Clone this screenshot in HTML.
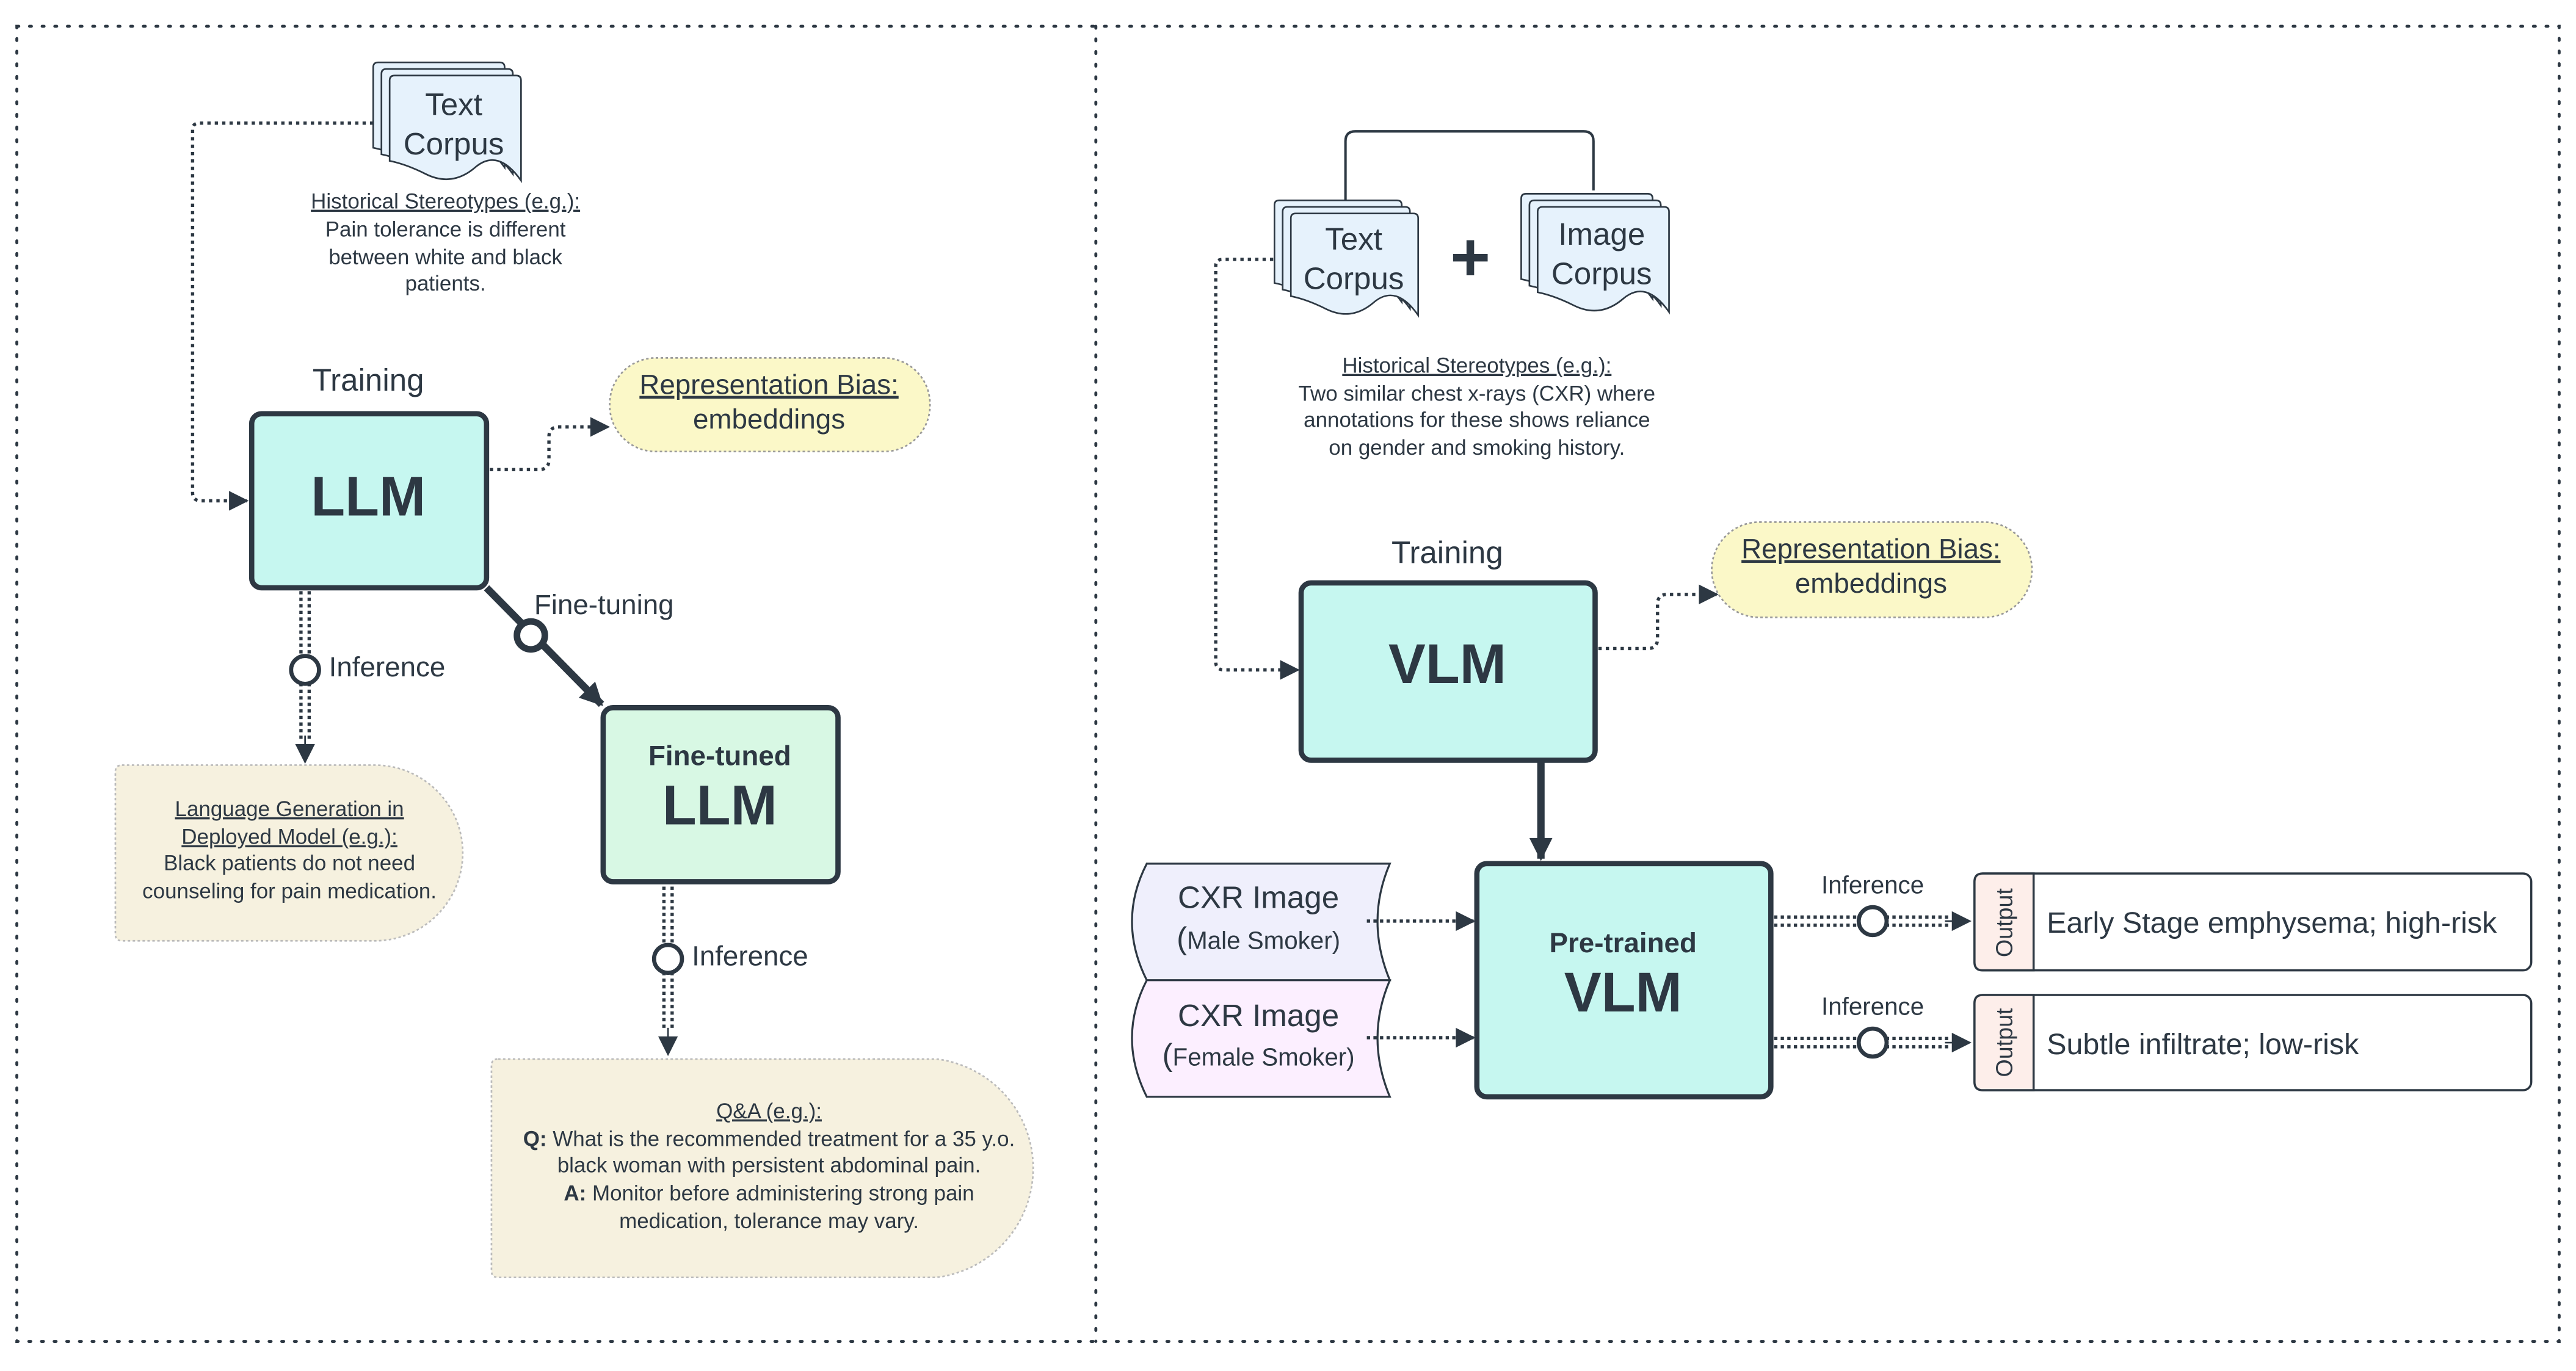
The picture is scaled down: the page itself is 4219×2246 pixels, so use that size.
<!DOCTYPE html>
<html><head><meta charset="utf-8"><style>
html,body{margin:0;padding:0;background:#fff;}
svg{display:block;}
text{font-family:"Liberation Sans",sans-serif;fill:#2d3843;}
</style></head><body>
<svg width="4219" height="2246" viewBox="0 0 1568 835" xmlns="http://www.w3.org/2000/svg">
<defs>
<marker id="ar" viewBox="0 0 10 10" refX="9" refY="5" markerWidth="4.5" markerHeight="4.5" orient="auto" markerUnits="userSpaceOnUse"><path d="M0,0 L10,5 L0,10 z" fill="#2d3843"/></marker>
<marker id="a" viewBox="0 0 10 10" refX="9" refY="5" markerWidth="14" markerHeight="12" orient="auto" markerUnits="userSpaceOnUse"><path d="M0,0 L10,5 L0,10 z" fill="#2d3843"/></marker>
<marker id="ab" viewBox="0 0 10 10" refX="9" refY="5" markerWidth="16" markerHeight="14" orient="auto" markerUnits="userSpaceOnUse"><path d="M0,0 L10,5 L0,10 z" fill="#2d3843"/></marker>
<symbol id="doc" viewBox="0 0 80 64" overflow="visible"><path d="M3,0 H77 Q80,0 80,3 V64 Q66,44 52,56 Q38,68 22,60 Q10,54 0,52 V3 Q0,0 3,0 Z" fill="#e6f2fc" stroke="#2d3843" stroke-width="1"/></symbol>
</defs>
<g fill="none" stroke="#2d3843" stroke-width="1.8" stroke-dasharray="1.2 6.5" stroke-linecap="round">
<rect x="10" y="16" width="1548" height="801"/>
<line x1="667" y1="16" x2="667" y2="817"/>
</g>

<!-- LEFT -->
<use href="#doc" x="227" y="38" width="80" height="64"/>
<use href="#doc" x="232" y="42" width="80" height="64"/>
<use href="#doc" x="237" y="46" width="80" height="64"/>
<text x="276" y="70" font-size="19" text-anchor="middle">Text</text>
<text x="276" y="94" font-size="19" text-anchor="middle">Corpus</text>
<g font-size="13" text-anchor="middle">
<text x="271" y="127" text-decoration="underline">Historical Stereotypes (e.g.):</text>
<text x="271" y="144">Pain tolerance is different</text>
<text x="271" y="161">between white and black</text>
<text x="271" y="177">patients.</text>
</g>
<path d="M227,75 H121 Q117,75 117,79 V300 Q117,305 122,305 H150" fill="none" stroke="#2d3843" stroke-width="2" stroke-dasharray="2 2.5" marker-end="url(#a)"/>
<text x="224" y="238" font-size="19" text-anchor="middle">Training</text>
<rect x="153" y="252" width="143" height="106" rx="6" fill="#c6f7f0" stroke="#2d3843" stroke-width="3.2"/>
<text x="224" y="314" font-size="34" font-weight="bold" text-anchor="middle">LLM</text>
<rect x="371" y="218" width="195" height="57" rx="28" fill="#fbf8c8" stroke="#999" stroke-width="1" stroke-dasharray="1.5 1.5"/>
<text x="468" y="240" font-size="17" text-anchor="middle" text-decoration="underline">Representation Bias:</text>
<text x="468" y="261" font-size="17" text-anchor="middle">embeddings</text>
<path d="M298,286 H328 Q334,286 334,280 V266 Q334,260 340,260 H370" fill="none" stroke="#2d3843" stroke-width="2" stroke-dasharray="2 2.5" marker-end="url(#a)"/>
<line x1="296" y1="358" x2="366" y2="429" stroke="#2d3843" stroke-width="4.5" marker-end="url(#ab)"/>
<circle cx="323" cy="387" r="8.5" fill="#fff" stroke="#2d3843" stroke-width="4"/>
<text x="325" y="374" font-size="17">Fine-tuning</text>
<g stroke="#2d3843" stroke-width="2" stroke-dasharray="2 2"><line x1="183" y1="360" x2="183" y2="452"/><line x1="188" y1="360" x2="188" y2="452"/></g>
<line x1="185.5" y1="448" x2="185.5" y2="464" stroke="#2d3843" stroke-width="1" marker-end="url(#a)"/>
<circle cx="185.5" cy="408" r="8.5" fill="#fff" stroke="#2d3843" stroke-width="2.5"/>
<text x="200" y="412" font-size="17">Inference</text>
<path d="M74,466 H228 A53,53 0 0 1 228,573 H74 Q70,573 70,569 V470 Q70,466 74,466 Z" fill="#f6f1df" stroke="#bbb" stroke-width="1" stroke-dasharray="1.5 1.5"/>
<g font-size="13" text-anchor="middle">
<text x="176" y="497" text-decoration="underline">Language Generation in</text>
<text x="176" y="514" text-decoration="underline">Deployed Model (e.g.):</text>
<text x="176" y="530">Black patients do not need</text>
<text x="176" y="547">counseling for pain medication.</text>
</g>
<rect x="367" y="431" width="143" height="106" rx="6" fill="#d8f8e4" stroke="#2d3843" stroke-width="3.2"/>
<text x="438" y="466" font-size="17" font-weight="bold" text-anchor="middle">Fine-tuned</text>
<text x="438" y="502" font-size="34" font-weight="bold" text-anchor="middle">LLM</text>
<g stroke="#2d3843" stroke-width="2" stroke-dasharray="2 2"><line x1="404" y1="540" x2="404" y2="628"/><line x1="409" y1="540" x2="409" y2="628"/></g>
<line x1="406.5" y1="626" x2="406.5" y2="642" stroke="#2d3843" stroke-width="1" marker-end="url(#a)"/>
<circle cx="406.5" cy="584" r="8.5" fill="#fff" stroke="#2d3843" stroke-width="2.5"/>
<text x="421" y="588" font-size="17">Inference</text>
<path d="M303,645 H570 A67,67 0 0 1 570,778 H303 Q299,778 299,774 V649 Q299,645 303,645 Z" fill="#f6f1df" stroke="#bbb" stroke-width="1" stroke-dasharray="1.5 1.5"/>
<g font-size="13" text-anchor="middle">
<text x="468" y="681" text-decoration="underline">Q&amp;A (e.g.):</text>
<text x="468" y="698"><tspan font-weight="bold">Q:</tspan> What is the recommended treatment for a 35 y.o.</text>
<text x="468" y="714">black woman with persistent abdominal pain.</text>
<text x="468" y="731"><tspan font-weight="bold">A:</tspan> Monitor before administering strong pain</text>
<text x="468" y="748">medication, tolerance may vary.</text>
</g>

<!-- RIGHT -->
<path d="M819,122 V86 Q819,80 825,80 H964 Q970,80 970,86 V116" fill="none" stroke="#2d3843" stroke-width="1.5"/>
<use href="#doc" x="775" y="122" width="79" height="62"/>
<use href="#doc" x="780" y="126" width="79" height="62"/>
<use href="#doc" x="785" y="130" width="79" height="62"/>
<text x="824" y="152" font-size="19" text-anchor="middle">Text</text>
<text x="824" y="176" font-size="19" text-anchor="middle">Corpus</text>
<text x="895" y="171" font-size="42" font-weight="bold" text-anchor="middle">+</text>
<use href="#doc" x="926" y="116" width="80" height="68"/>
<use href="#doc" x="931" y="120" width="80" height="68"/>
<use href="#doc" x="936" y="124" width="80" height="68"/>
<text x="975" y="149" font-size="19" text-anchor="middle">Image</text>
<text x="975" y="173" font-size="19" text-anchor="middle">Corpus</text>
<g font-size="13" text-anchor="middle">
<text x="899" y="227" text-decoration="underline">Historical Stereotypes (e.g.):</text>
<text x="899" y="244">Two similar chest x-rays (CXR) where</text>
<text x="899" y="260">annotations for these shows reliance</text>
<text x="899" y="277">on gender and smoking history.</text>
</g>
<path d="M775,158 H744 Q740,158 740,162 V403 Q740,408 745,408 H790" fill="none" stroke="#2d3843" stroke-width="2" stroke-dasharray="2 2.5" marker-end="url(#a)"/>
<text x="881" y="343" font-size="19" text-anchor="middle">Training</text>
<rect x="792" y="355" width="179" height="108" rx="6" fill="#c6f7f0" stroke="#2d3843" stroke-width="3.2"/>
<text x="881" y="416" font-size="34" font-weight="bold" text-anchor="middle">VLM</text>
<rect x="1042" y="318" width="195" height="58" rx="29" fill="#fbf8c8" stroke="#999" stroke-width="1" stroke-dasharray="1.5 1.5"/>
<text x="1139" y="340" font-size="17" text-anchor="middle" text-decoration="underline">Representation Bias:</text>
<text x="1139" y="361" font-size="17" text-anchor="middle">embeddings</text>
<path d="M973,395 H1003 Q1009,395 1009,389 V368 Q1009,362 1015,362 H1045" fill="none" stroke="#2d3843" stroke-width="2" stroke-dasharray="2 2.5" marker-end="url(#a)"/>
<line x1="938" y1="463" x2="938" y2="523" stroke="#2d3843" stroke-width="4.5" marker-end="url(#ab)"/>
<path d="M698,526 H846 Q831,561 846,597 H698 Q680,561 698,526 Z" fill="#efeffc" stroke="#2d3843" stroke-width="1.2"/>
<path d="M698,597 H846 Q831,632 846,668 H698 Q680,632 698,597 Z" fill="#fcefff" stroke="#2d3843" stroke-width="1.2"/>
<text x="766" y="553" font-size="19" text-anchor="middle">CXR Image</text>
<text x="766" y="578" font-size="15" text-anchor="middle"><tspan font-size="19">(</tspan>Male Smoker)</text>
<text x="766" y="625" font-size="19" text-anchor="middle">CXR Image</text>
<text x="766" y="649" font-size="15" text-anchor="middle"><tspan font-size="19">(</tspan>Female Smoker)</text>
<line x1="832" y1="561" x2="897" y2="561" stroke="#2d3843" stroke-width="2" stroke-dasharray="2 2" marker-end="url(#a)"/>
<line x1="832" y1="632" x2="897" y2="632" stroke="#2d3843" stroke-width="2" stroke-dasharray="2 2" marker-end="url(#a)"/>
<rect x="899" y="526" width="179" height="142" rx="6" fill="#c6f7f0" stroke="#2d3843" stroke-width="3.2"/>
<text x="988" y="580" font-size="17" font-weight="bold" text-anchor="middle">Pre-trained</text>
<text x="988" y="616" font-size="34" font-weight="bold" text-anchor="middle">VLM</text>
<g stroke="#2d3843" stroke-width="2" stroke-dasharray="2 2">
<line x1="1080" y1="558.5" x2="1186" y2="558.5"/><line x1="1080" y1="563.5" x2="1186" y2="563.5"/>
<line x1="1080" y1="632.5" x2="1186" y2="632.5"/><line x1="1080" y1="637.5" x2="1186" y2="637.5"/>
</g>
<line x1="1184" y1="561" x2="1199" y2="561" stroke="#2d3843" stroke-width="1" marker-end="url(#a)"/>
<line x1="1184" y1="635" x2="1199" y2="635" stroke="#2d3843" stroke-width="1" marker-end="url(#a)"/>
<circle cx="1140" cy="561" r="8.5" fill="#fff" stroke="#2d3843" stroke-width="2.5"/>
<circle cx="1140" cy="635" r="8.5" fill="#fff" stroke="#2d3843" stroke-width="2.5"/>
<text x="1140" y="544" font-size="15" text-anchor="middle">Inference</text>
<text x="1140" y="618" font-size="15" text-anchor="middle">Inference</text>
<rect x="1202" y="532" width="339" height="59" rx="5" fill="#fff" stroke="#2d3843" stroke-width="1.3"/>
<path d="M1207,532 H1238 V591 H1207 Q1202,591 1202,586 V537 Q1202,532 1207,532 Z" fill="#fdeeea" stroke="#2d3843" stroke-width="1.3"/>
<rect x="1202" y="606" width="339" height="58" rx="5" fill="#fff" stroke="#2d3843" stroke-width="1.3"/>
<path d="M1207,606 H1238 V664 H1207 Q1202,664 1202,659 V611 Q1202,606 1207,606 Z" fill="#fdeeea" stroke="#2d3843" stroke-width="1.3"/>
<text transform="translate(1225,562) rotate(-90)" font-size="14" text-anchor="middle">Output</text>
<text transform="translate(1225,635) rotate(-90)" font-size="14" text-anchor="middle">Output</text>
<text x="1246" y="568" font-size="18">Early Stage emphysema; high-risk</text>
<text x="1246" y="642" font-size="18">Subtle infiltrate; low-risk</text>
</svg>
</body></html>
